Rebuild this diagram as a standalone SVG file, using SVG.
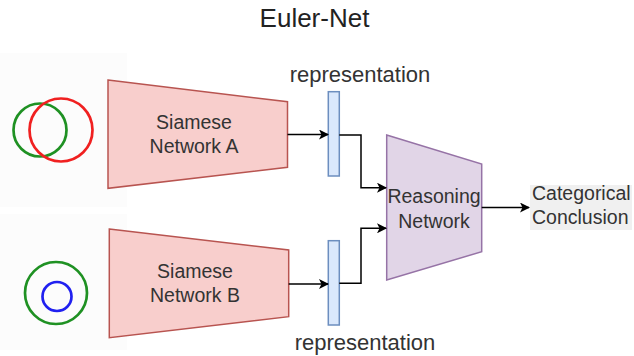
<svg xmlns="http://www.w3.org/2000/svg" width="634" height="356" viewBox="0 0 634 356">
<defs>
<style>
text{font-family:"Liberation Sans",Arial,sans-serif;fill:#333333}
.lbl{font-size:19.5px;text-anchor:middle}
.rep{font-size:22px;text-anchor:middle}
.siam{fill:#f8cecc;stroke:#b85450;stroke-width:1.5}
.bar{fill:#dae8fc;stroke:#6c8ebf;stroke-width:1.5}
.reas{fill:#e1d5e7;stroke:#9673a6;stroke-width:1.5}
.conn{fill:none;stroke:#000;stroke-width:1.5}
.circ{fill:none;stroke-width:2.7}
</style>
<marker id="arr" viewBox="0 0 10 10" refX="9" refY="5" markerWidth="10" markerHeight="10" markerUnits="userSpaceOnUse" orient="auto">
<path d="M0,0 L10,5 L0,10 L2.5,5 Z" fill="#000"/>
</marker>
</defs>
<rect width="634" height="356" fill="#ffffff"/>
<text x="314.5" y="27" font-size="26" text-anchor="middle" style="fill:#222222">Euler-Net</text>

<g id="inputA">
<rect x="0" y="53" width="127" height="154" fill="#fcfcfc"/>
<circle class="circ" cx="40" cy="130" r="26.5" stroke="#1f9123"/>
<circle class="circ" cx="61" cy="130" r="31.5" stroke="#f02020"/>
</g>
<g id="inputB">
<rect x="0" y="214" width="127" height="136" fill="#fcfcfc"/>
<circle class="circ" cx="56" cy="293" r="31" stroke="#1f9123"/>
<circle class="circ" cx="57" cy="296.5" r="14.5" stroke="#2020f0"/>
</g>

<g id="siameseA">
<polygon class="siam" points="108,80 287.5,101.7 287.5,167.3 108,188.3"/>
<text class="lbl" x="194" y="129">Siamese</text>
<text class="lbl" x="194" y="153">Network A</text>
</g>
<g id="siameseB">
<polygon class="siam" points="109.3,229 288.7,250 288.7,316.7 109.3,337.7"/>
<text class="lbl" x="195" y="278">Siamese</text>
<text class="lbl" x="195" y="302">Network B</text>
</g>

<g id="repA">
<rect class="bar" x="328.3" y="91.7" width="11" height="84.3"/>
<text class="rep" x="360" y="82">representation</text>
</g>
<g id="repB">
<rect class="bar" x="328.3" y="240.7" width="11" height="84.3"/>
<text class="rep" x="365" y="350">representation</text>
</g>

<g id="reasoning">
<polygon class="reas" points="386.7,135 481.7,164 481.7,251.7 386.7,280"/>
<text class="lbl" x="434" y="203">Reasoning</text>
<text class="lbl" x="434" y="227.5">Network</text>
</g>

<g id="output">
<rect x="530" y="185" width="102" height="45" fill="#f0f0f0"/>
<text x="532" y="200" font-size="19.5">Categorical</text>
<text x="532" y="223.5" font-size="19.5">Conclusion</text>
</g>

<g id="connectors">
<path class="conn" d="M287.5,134.5 H328" marker-end="url(#arr)"/>
<path class="conn" d="M288.7,284 H328" marker-end="url(#arr)"/>
<path class="conn" d="M339.3,135 H361 V187.7 H386" marker-end="url(#arr)"/>
<path class="conn" d="M339.3,283.3 H361 V228.3 H386" marker-end="url(#arr)"/>
<path class="conn" d="M481.7,207.5 H529" marker-end="url(#arr)"/>
</g>
</svg>
